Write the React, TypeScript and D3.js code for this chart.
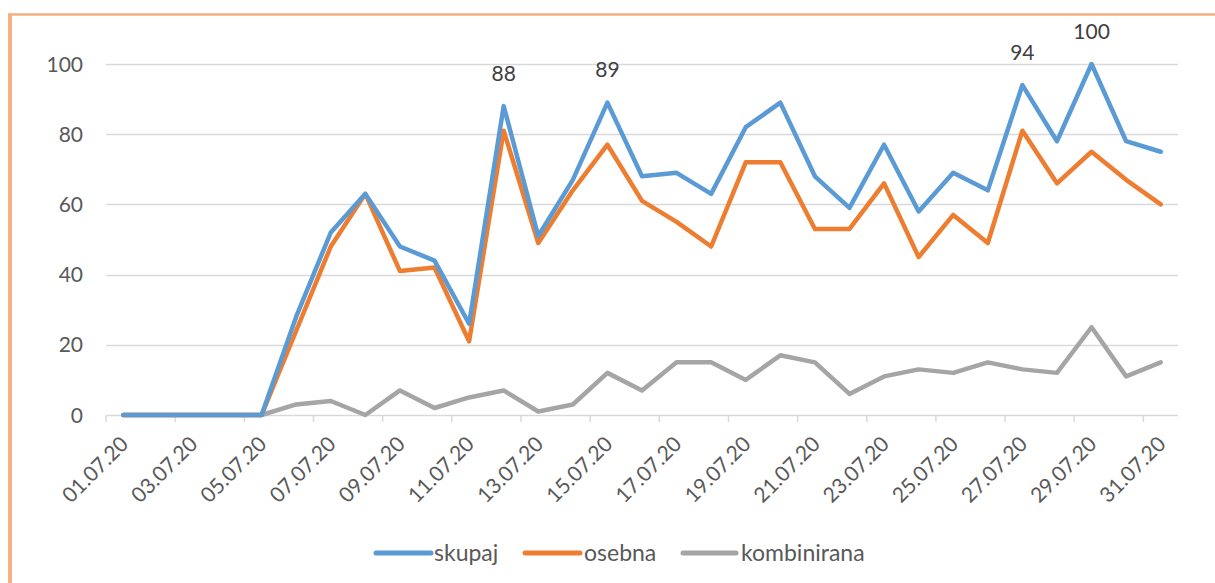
import React from "react";
import * as d3 from "d3";

const days = d3.range(1, 32).map((d) => `${String(d).padStart(2, "0")}.07.20`);
const skupaj = [0, 0, 0, 0, 0, 28, 52, 63, 48, 44, 26, 88, 51, 67, 89, 68, 69, 63, 82, 89, 68, 59, 77, 58, 69, 64, 94, 78, 100, 78, 75];
const osebna = [0, 0, 0, 0, 0, 24, 48, 63, 41, 42, 21, 81, 49, 64, 77, 61, 55, 48, 72, 72, 53, 53, 66, 45, 57, 49, 81, 66, 75, 67, 60];
const kombinirana = [0, 0, 0, 0, 0, 3, 4, 0, 7, 2, 5, 7, 1, 3, 12, 7, 15, 15, 10, 17, 15, 6, 11, 13, 12, 15, 13, 12, 25, 11, 15];
const yTicks = [0, 20, 40, 60, 80, 100];
const labelled = ["12.07.20", "15.07.20", "27.07.20", "29.07.20"];

const series = [
  { name: "skupaj", values: skupaj, color: "#5B9BD5" },
  { name: "osebna", values: osebna, color: "#ED7D31" },
  { name: "kombinirana", values: kombinirana, color: "#A5A5A5" },
];

const W = 1215;
const H = 583;
const left = 106;
const right = 1178;
const top = 64;
const bottom = 415;
const FONT = "Lato, 'Open Sans', sans-serif";

export default function App() {
  const x = d3.scaleBand<string>().domain(days).range([left, right]).padding(0);
  const cx = (d: string) => (x(d) as number) + x.bandwidth() / 2;
  const y = d3.scaleLinear().domain([0, 100]).range([bottom, top]);
  const line = (vals: number[]) =>
    d3
      .line<number>()
      .x((_, i) => cx(days[i]))
      .y((v) => y(v))(vals) as string;

  const tickIdx = d3.range(0, 31, 2);
  const legendItems = [
    { x0: 376, x1: 431, tx: 434 },
    { x0: 525, x1: 580, tx: 584 },
    { x0: 683, x1: 736, tx: 741 },
  ];

  return (
    <svg width={W} height={H} style={{ position: "absolute", left: 0, top: 0, background: "#fff" }}>
      <rect x={0} y={0} width={W} height={H} fill="#fff" />
      {/* frame */}
      <line x1={8} x2={W} y1={14.5} y2={14.5} stroke="#F4B183" strokeWidth={2.5} />
      <line x1={10} x2={10} y1={13.5} y2={H} stroke="#F4B183" strokeWidth={4} />

      {/* gridlines */}
      {yTicks.map((t) => (
        <g key={t}>
          <line x1={left} x2={right} y1={Math.round(y(t)) + 0.5} y2={Math.round(y(t)) + 0.5} stroke="#D9D9D9" strokeWidth={1.5} />
          <text x={83} y={y(t)} dy="0.36em" textAnchor="end" fontFamily={FONT} fontSize={21} fill="#595959">
            {t}
          </text>
        </g>
      ))}
      {/* x ticks */}
      {tickIdx.map((i) => (
        <line key={i} x1={left + i * x.step()} x2={left + i * x.step()} y1={bottom} y2={bottom + 7} stroke="#D9D9D9" strokeWidth={1.5} />
      ))}
      {days.map((d, i) =>
        i % 2 === 0 ? (
          <text
            key={d}
            transform={`translate(${cx(d) + 1},${bottom + 25}) rotate(-45)`}
            textAnchor="end"
            dy="0.36em"
            fontFamily={FONT}
            fontSize={21}
            fill="#595959"
          >
            {d}
          </text>
        ) : null
      )}

      {/* lines */}
      {series
        .slice()
        .reverse()
        .map((s) => (
          <path key={s.name} d={line(s.values)} fill="none" stroke={s.color} strokeWidth={4.5} strokeLinejoin="round" strokeLinecap="round" />
        ))}

      {/* data labels */}
      {labelled.map((d) => {
        const i = days.indexOf(d);
        return (
          <text key={d} x={cx(d)} y={y(skupaj[i]) - 33} dy="0.36em" textAnchor="middle" fontFamily={FONT} fontSize={21} fill="#404040">
            {skupaj[i]}
          </text>
        );
      })}

      {/* legend */}
      {series.map((s, i) => (
        <g key={s.name}>
          <line x1={legendItems[i].x0} x2={legendItems[i].x1} y1={553} y2={553} stroke={s.color} strokeWidth={5} strokeLinecap="round" />
          <text x={legendItems[i].tx} y={553} dy="0.36em" fontFamily={FONT} fontSize={23} fill="#595959">
            {s.name}
          </text>
        </g>
      ))}
    </svg>
  );
}
